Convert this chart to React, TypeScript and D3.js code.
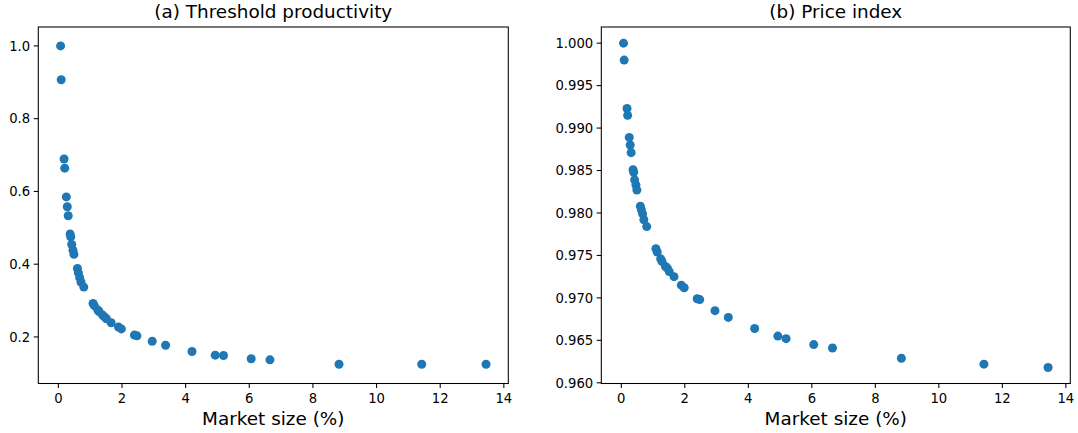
import React from "react";
import * as d3 from "d3";

// values
const marketSize = [
  0.07, 0.09, 0.18, 0.2, 0.25, 0.28, 0.31, 0.37, 0.39, 0.42, 0.46, 0.49, 0.6,
  0.63, 0.67, 0.71, 0.8, 1.09, 1.13, 1.24, 1.28, 1.39, 1.45, 1.51, 1.66, 1.89,
  1.98, 2.39, 2.47, 2.95, 3.37, 4.2, 4.93, 5.19, 6.06, 6.65, 8.82, 11.42, 13.44,
];
const thresholdProductivity = [
  1.0, 0.907, 0.689, 0.664, 0.585, 0.558, 0.533, 0.483, 0.475, 0.454, 0.438,
  0.427, 0.388, 0.376, 0.363, 0.351, 0.337, 0.292, 0.286, 0.274, 0.27, 0.26,
  0.255, 0.25, 0.239, 0.227, 0.222, 0.205, 0.203, 0.188, 0.177, 0.16, 0.15,
  0.149, 0.14, 0.137, 0.125, 0.125, 0.125,
];
const priceIndex = [
  1.0, 0.998, 0.9923, 0.9915, 0.9889, 0.988, 0.9871, 0.9851, 0.9848, 0.9839,
  0.9833, 0.9827, 0.9808, 0.9804, 0.9799, 0.9792, 0.9784, 0.9758, 0.9754,
  0.9746, 0.9743, 0.9737, 0.9735, 0.9731, 0.9725, 0.9715, 0.9712, 0.9699,
  0.9698, 0.9685, 0.9677, 0.9664, 0.9655, 0.9652, 0.9645, 0.9641, 0.9629,
  0.9622, 0.9618,
];

const xTicks = [0, 2, 4, 6, 8, 10, 12, 14];
const yTicksA = [0.2, 0.4, 0.6, 0.8, 1.0];
const yTicksB = [0.96, 0.965, 0.97, 0.975, 0.98, 0.985, 0.99, 0.995, 1.0];

const xLimits = [-0.63, 14.14];
const yLimitsA = [0.072, 1.052];
const yLimitsB = [0.95992, 1.0019];

const W = 1078;
const H = 433;
const top = 27;
const bottom = 383.5;
const font = "DejaVu Sans, sans-serif";
const dotColor = "#1f77b4";

type PanelProps = {
  left: number;
  width: number;
  title: string;
  ys: number[];
  yLimits: number[];
  yTicks: number[];
  fmt: (v: number) => string;
};

const Panel = ({ left, width, title, ys, yLimits, yTicks, fmt }: PanelProps) => {
  const x = d3.scaleLinear().domain(xLimits).range([left, left + width]);
  const y = d3.scaleLinear().domain(yLimits).range([bottom, top]);
  const tick = 4.6;
  return (
    <g fontFamily={font}>
      {marketSize.map((m, i) => (
        <circle key={i} cx={x(m)} cy={y(ys[i])} r={4.5} fill={dotColor} />
      ))}
      <rect
        x={left}
        y={top}
        width={width}
        height={bottom - top}
        fill="none"
        stroke="black"
        strokeWidth={1.06}
      />
      {xTicks.map((t) => (
        <g key={t}>
          <line
            x1={x(t)}
            x2={x(t)}
            y1={bottom}
            y2={bottom + tick}
            stroke="black"
            strokeWidth={1.06}
          />
          <text x={x(t)} y={403} textAnchor="middle" fontSize={13.2}>
            {t}
          </text>
        </g>
      ))}
      {yTicks.map((t) => (
        <g key={t}>
          <line
            x1={left - tick}
            x2={left}
            y1={y(t)}
            y2={y(t)}
            stroke="black"
            strokeWidth={1.06}
          />
          <text
            x={left - tick - 3.5}
            y={y(t)}
            dy="0.36em"
            textAnchor="end"
            fontSize={13.2}
          >
            {fmt(t)}
          </text>
        </g>
      ))}
      <text x={left + width / 2} y={18} textAnchor="middle" fontSize={18.4}>
        {title}
      </text>
      <text x={left + width / 2} y={425} textAnchor="middle" fontSize={18.4}>
        Market size (%)
      </text>
    </g>
  );
};

const App = () => {
  return (
    <svg
      width={W}
      height={H}
      style={{ position: "absolute", left: 0, top: 0, background: "white" }}
    >
      <Panel
        left={38.3}
        width={470}
        title="(a) Threshold productivity"
        ys={thresholdProductivity}
        yLimits={yLimitsA}
        yTicks={yTicksA}
        fmt={d3.format(".1f")}
      />
      <Panel
        left={601.3}
        width={469}
        title="(b) Price index"
        ys={priceIndex}
        yLimits={yLimitsB}
        yTicks={yTicksB}
        fmt={d3.format(".3f")}
      />
    </svg>
  );
};

export default App;
